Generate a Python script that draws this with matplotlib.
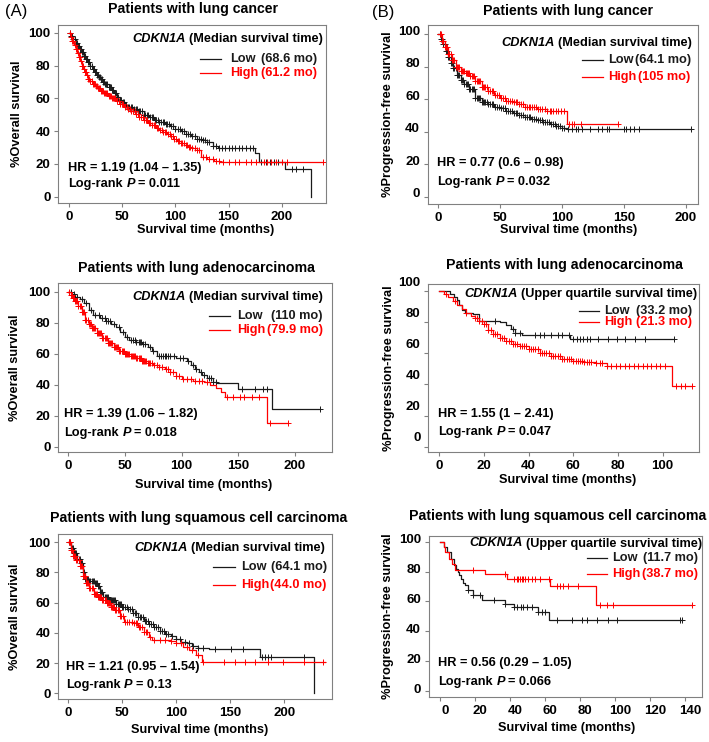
import numpy as np
import matplotlib
matplotlib.use("Agg")
import matplotlib.pyplot as plt
from matplotlib.lines import Line2D
import matplotlib.transforms as mtrans

plt.rcParams['font.family'] = ['Liberation Sans', 'DejaVu Sans']
plt.rcParams['font.weight'] = 'bold'

# ---------------- DATA ----------------
# Panel A1: overall survival, lung cancer
a1_low_t = [0,2,4,6,8,10,12,14,16,18,20,22,24,26,28,30,32,34,37,40,42.5,45,47.5,50,52.5,55,60,65,70,75,80,85,90,95,100,105,110,115,120,125,130,135,140,150,175,179,203,228]
a1_low_s = [100,98,96,94,92,90,88,86,84,82,80,78,76,74.5,73,71.5,70,69,67,65,63,61,59,57.5,56,55,53.5,52,50,48.5,47,45.5,44.5,43,41.5,40,38,37,35.5,34.8,33.5,31,30,29.5,26.5,21.2,17.1,0]
a1_low_c = [1,2,3,4,5,6,7,8,9,10,11,12,13,14,15,16,17,18,19,20,21,22,23,24,25,26,27,28,29,30,31,32,33,34,35,36,37,38,39,40,41.5,43,44.5,46,47.5,49,50.5,52,53.5,55,56.5,58,59.5,61,62.5,64,65.5,67,68.5,70,71.5,73,74.5,76,77.5,79,80.5,82,83.5,85,86.5,88,89.5,91,92.5,94,96,98,100,102,104,106,108,110,112,114,116,118,120,122,124,126,128,130,132,135,138,141,144,147,150,153,156,160,163,166,170,173,181,185,189,193,197,210,214,220]
a1_high_t = [0,1.5,3,4.5,6,7.5,9,10.5,12,13.5,15,16.5,18,20,22,24.5,27,30,33,36.5,40,44,48,51.5,55,58.5,62,66,70,74,78,81.5,85,88.5,92,95,98,101.5,105,108.5,112,116,120,124,130,136,142,239]
a1_high_s = [100,97.5,95,92.5,90,87.5,85,82.5,80,78,76,74,72,70.5,69,67.5,66,64.5,63,61.5,60,58.3,56.5,55,53.5,52,50.5,48.8,47,45.2,43.5,42,40.5,39.5,38.5,37,35.5,34.2,33,31.8,30.5,29.5,28.5,24.5,23,22,21,21]
a1_high_c = [1,2,3,4,5,6,7,8,9,10,11,12,13,14,15,16,17,18,19,20,21,22,23,24,25,26,27,28,29,30,31,32,33,34,35,36,37,38,39,40,41,42,43.5,45,46.5,48,49.5,51,52.5,54,55.5,57,58.5,60,61.5,63,64.5,66,67.5,69,70.5,72,73.5,75,76.5,78,79.5,81,82.5,84,85.5,87,88.5,90,91.5,93,94.5,96,97.5,99,100.5,102,103.5,105,106.5,108,109.5,111,112.5,114,116,118,120,122,126,129,132,135,138,141,145,150,156,160,166,171,176,183,186,190,195,200,205,239]

# Panel B1: progression-free survival, lung cancer
b1_low_t = [0,2,4,6,8,10,12,15,18,21,25,30,35,40,45,50,55,60,65,70,75,80,85,90,95,100,104,204]
b1_low_s = [100,97,94,90,86,82,79,75,72,69.5,66,61,58.5,57,55.5,54.5,53,51.5,50,49,48,47,46,44.5,43.5,42.5,41.5,41.5]
b1_low_c = [1,2,3,4,5,6,7,8,9,10,11,12,13,14,15,16,17,18,19,20,21,22,23,24,25,26,27,28,29,30,31,32,33,34,35,36,37,38,39,40,41.5,43,44.5,46,47.5,49,50.5,52,53.5,55,56.5,58,59.5,61,62.5,64,65.5,67,68.5,70,71.5,73,74.5,76,77.5,79,80.5,82,83.5,85,86.5,88,89.5,91,92.5,94,95.5,97,98.5,100,102,105,108,111,113,116,123,129,132,136,138,150,152,155,158,162,204]
b1_high_t = [0,3,5,8,11,14,18,22,26,30,35,40,45,50,55,60,65,70,75,80,88,104,145]
b1_high_s = [100,96,92,88,84,80,77.5,76,74,71,67.5,65,62.5,60.5,59,58,57,55.5,55,54,52.5,45,45]
b1_high_c = [1,2,3,4,5,6,7,8,9,10,11,12,13,14,15,16,17,18,19,20,21,22,23,24,25,26,27,28,29,30,31,32,33,34,35,36,37,38,39,40,41.5,43,44.5,46,47.5,49,50.5,52,53.5,55,56.5,58,59.5,61,62.5,64,65.5,67,68.5,70,71.5,73,74.5,76,77.5,79,80.5,82,84,86,88,90,91.5,93,95,97,99,102,106,108,110,115,145]

# Panel A2: overall survival, lung adenocarcinoma
a2_low_t = [0,3,6,10,14,18,22,28,33,38,42,46,50,54,60,65,70,74,78,95,105,108,112,115,118,122,128,131,150,180,222]
a2_low_s = [100,98.5,96.5,95,92.5,88,85,83,81,79,77,74,71,69,67.5,66.5,64.5,62,58.5,57.5,55,52.5,50,48,46,44,42,41,37,24.5,24.5]
a2_low_c = [2,5,8,12,16,20,24,27,30,32,33,35,37,40,45,48,52,55,57,59,60,62,63,64,66,68,72,75,80,82,84,85,86,88,90,93,99,101,106,110,113,117,120,124,126,128,130,153,165,172,175,222]
a2_high_t = [0,2,4,6,9,12,15,18,21,25,30,35,40,45,50,55,60,65,70,75,80,85,90,95,100,110,120,125,130,135,138,175,194]
a2_high_s = [100,98,96,94,91,87,82,79,76.5,73.5,70,67,64,62,60,58.5,57,55.5,54,53,51.5,50,48,45.5,43.5,42.5,41.5,40,38,35.5,32,15.5,15.5]
a2_high_c = [1,2,3,4,5,6,7,8,9,10,11,12,13,14,15,16,17,18,19,20,21,22,23,24,25,26,27,28,29,30,31,32,33,34,35,36,37,38,39,40,41,42,43,44,45,46,47,48,49,50,51,52,53,54,55,56,57,58,59,60,61,62,63,64,65,66,67,68,69,70,71,72,74,76,78,80,83,86,88,90,92,95,98,101,105,108,112,115,118,122,140,145,152,155,162,168,178,194]

# Panel B2: progression-free survival, lung adenocarcinoma
b2_low_t = [0,5,6.5,8,9,10,11.5,15,18,27,30,32,34,37,58.5,105]
b2_low_s = [100,98,96,94,91,88,86,85,81,80,78,75.5,73,71.7,69,69]
b2_low_c = [25,33,34,36,43,45,47,50,53,55,58,60,61.5,63,64.5,66,67.5,71,75.5,79.5,83,87.5,92,105]
b2_high_t = [0,2,4,6,8,10,12,14,16,18,20,22,24,27,30,33,36,40,45,50,55,60,65,70,75,104,113]
b2_high_s = [100,98,96,93.5,91,88.5,86,84,82.5,80.5,78.5,75,72.5,70,68,66,64.5,62.5,60.5,58.5,56.5,55.3,54.5,53.5,52,39,39]
b2_high_c = [3,7,12,16,17,18,19,20,21,22,23,24,25,26,27,28,29,30,31,32,33,34,35,36,37,38,39,40,41,42,43,44,45,46,47,48,49,50,51,52,53,54,55,56,57,58,59,60,61,62,63,64,65,66,67,68,70,72,73,75,77,79,81,83,85,87,89,91,93,95,97,99,101,106,108,110,113]

# Panel A3: overall survival, lung squamous cell carcinoma
a3_low_t = [0,3,6,9,12,14,16,20,25,28,30,33,38,45,50,55,60,65,70,75,80,85,90,95,100,105,110,115,120,130,178,227]
a3_low_s = [100,96,93,89,86,80,76,74.5,73,71,67,63.5,61.5,59,57,55.5,53,50.5,48,46,44,41.5,39.5,38,36,34,33,31.5,30,29,24.2,0]
a3_low_c = [1,2,3,4,5,6,7,8,9,10,11,12,13,14,15,16,17,18,19,20,21,22,23,24,25,26,27,28,29,30,31,32,33,34,35,36,37,38,39,40,41,42,43,44,45,46,47,48,49,50,51.5,53,54.5,56,57.5,59,60.5,62,63.5,65,66.5,68,69.5,71,72.5,74,75.5,77,78.5,80,81.5,83,85,87,89,91,93,96,100,104,108,112,116,120,125,136,151,162,179,182,185,188,218]
a3_high_t = [0,3,5,8,11,14,17,20,24,28,32,36,40,44,48,52,60,65,70,75,78,95,100,106,112,118,124,238]
a3_high_s = [100,95,91,88,84,78,73,69.5,66,64,62,60,57,55,51,47.5,46.5,44,40.5,37,35.5,34.5,33,30.5,28.5,25.5,21,21]
a3_high_c = [1,2,3,4,5,6,7,8,9,10,11,12,13,14,15,16,17,18,19,20,21,22,23,24,25,26,27,28,29,30,31,32,33,34,35,36,37,38,39,40,41,42,43,44,45,46,47,48,49,51,53,55,57,59,61,63,64,66,67,69,70,72,73,76,80,85,90,95,100,105,110,115,120,125,144,154,164,173,185,199,218,236]

# Panel B3: progression-free survival, lung squamous cell carcinoma
b3_low_t = [0,2,4,6,8,9,10,11,12,13,14,16,19,24,37,42,56,62,138]
b3_low_s = [100,96.4,93,88.6,84.2,81.5,79.7,77.5,75.2,72,70.8,67.4,64.1,60.7,58.5,56.3,52.9,47.4,47.4]
b3_low_c = [16.2,19,23,31,37,42,44,46,47.6,49.5,52.4,56,58,60,66.7,75.2,81,83.8,89.5,96.2,101,137,138]
b3_high_t = [0,2,3,5,7,8.6,25.7,38,63,89,144]
b3_high_s = [100,96.5,93,88.6,85.3,80.8,78.6,75.2,70.1,57.8,57.8]
b3_high_c = [19,37,42,44,44.7,45.7,46.7,47.6,48.6,50.5,52.4,54.3,57,62,66.7,68.6,70.5,73.3,79,91.4,95.2,99,144]

# Text content
titles = ["Patients with lung cancer", "Patients with lung cancer",
          "Patients with lung adenocarcinoma", "Patients with lung adenocarcinoma",
          "Patients with lung squamous cell carcinoma", "Patients with lung squamous cell carcinoma"]
ylabels = ["%Overall survival", "%Progression-free survival"] * 3
headers = ["(Median survival time)", "(Median survival time)",
           "(Median survival time)", "(Upper quartile survival time)",
           "(Median survival time)", "(Upper quartile survival time)"]
low_vals = ["(68.6 mo)", "(64.1 mo)", "(110 mo)", "(33.2 mo)", "(64.1 mo)", "(11.7 mo)"]
high_vals = ["(61.2 mo)", "(105 mo)", "(79.9 mo)", "(21.3 mo)", "(44.0 mo)", "(38.7 mo)"]
hr_texts = ["HR = 1.19 (1.04 \u2013 1.35)", "HR = 0.77 (0.6 \u2013 0.98)",
            "HR = 1.39 (1.06 \u2013 1.82)", "HR = 1.55 (1 \u2013 2.41)",
            "HR = 1.21 (0.95 \u2013 1.54)", "HR = 0.56 (0.29 \u2013 1.05)"]
p_texts = ["= 0.011", "= 0.032", "= 0.018", "= 0.047", "= 0.13", "= 0.066"]
xticks_list = [[0,50,100,150,200], [0,50,100,150,200], [0,50,100,150,200],
               [0,20,40,60,80,100], [0,50,100,150,200], [0,20,40,60,80,100,120,140]]
yticks = [0,20,40,60,80,100]

curves = [
    (a1_low_t, a1_low_s, a1_low_c, a1_high_t, a1_high_s, a1_high_c),
    (b1_low_t, b1_low_s, b1_low_c, b1_high_t, b1_high_s, b1_high_c),
    (a2_low_t, a2_low_s, a2_low_c, a2_high_t, a2_high_s, a2_high_c),
    (b2_low_t, b2_low_s, b2_low_c, b2_high_t, b2_high_s, b2_high_c),
    (a3_low_t, a3_low_s, a3_low_c, a3_high_t, a3_high_s, a3_high_c),
    (b3_low_t, b3_low_s, b3_low_c, b3_high_t, b3_high_s, b3_high_c),
]

# ---------------- LAYOUT (pixel positions) ----------------
W, H = 709, 742
layout = [
    dict(rect=(58.3, 25, 326, 203.3), xlim=(-10.3, 241.8), ylim=(-4, 104.7),
         title=(192.8, 9.5), ylab=17, xlab=(205.8, 230),
         head=(323.3, 39.3), line=(200, 221), rows=(59.3, 72.7), name=230, valr=316.7,
         hr=(68.3, 168.3, 184.3), ydy=0, xdx=0),
    dict(rect=(427.7, 25, 698.3, 204), xlim=(-8.6, 210.2), ylim=(-4.5, 105.7),
         title=(568, 11), ylab=388, xlab=(569, 230),
         head=(691.7, 42.7), line=(581.7, 603.3), rows=(60, 76.7), name=607.7, valr=690.7,
         hr=(437.3, 163.3, 181.7), ydy=4, xdx=0),
    dict(rect=(58.3, 283.3, 331.7, 452.3), xlim=(-8.8, 232.5), ylim=(-3.6, 105.4),
         title=(196, 268.3), ylab=15, xlab=(204, 485),
         head=(323.3, 297.3), line=(209, 230), rows=(315.7, 330), name=237.5, valr=322.7,
         hr=(64.3, 414, 432.7), ydy=0, xdx=0),
    dict(rect=(428.3, 284, 699.3, 452.3), xlim=(-4.9, 116.4), ylim=(-3.6, 104.5),
         title=(564.7, 265), ylab=389, xlab=(567.5, 480),
         head=(697, 294), line=(579.3, 599.3), rows=(310.7, 322), name=604.3, valr=692.3,
         hr=(438.3, 414, 432.3), ydy=10, xdx=0),
    dict(rect=(58.3, 534.3, 332.3, 699.3), xlim=(-8.7, 244.3), ylim=(-4, 105.3),
         title=(199, 518.3), ylab=15, xlab=(199.7, 730),
         head=(325, 548.3), line=(213.3, 235), rows=(567.3, 585), name=241.5, valr=326.7,
         hr=(65.7, 666.7, 685), ydy=0, xdx=0),
    dict(rect=(429, 535.7, 701.7, 697.3), xlim=(-6.3, 149.5), ylim=(-4.2, 104),
         title=(558, 516), ylab=388, xlab=(566.7, 728.3),
         head=(702, 543.5), line=(586.5, 606.7), rows=(558.3, 574.3), name=612, valr=698.3,
         hr=(438.3, 663.3, 681.7), ydy=3, xdx=5),
]

BLACK = '#1a1a1a'
RED = '#ff0000'
GRAY = '#808080'
FS = 9.2

fig = plt.figure(figsize=(W / 100, H / 100), dpi=100)
renderer = fig.canvas.get_renderer()


def fx(x):
    return x / W


def fy(y):
    return 1 - y / H


def text_w(s, **kw):
    t = fig.text(0, 0, s, **kw)
    w = t.get_window_extent(renderer).width
    t.remove()
    return w


def rich(x, y, parts, ha='left', size=FS, color='black'):
    sw = text_w('a a', fontsize=size, fontweight='bold') - text_w('aa', fontsize=size, fontweight='bold')
    widths = [text_w(s, fontsize=size, fontweight='bold', fontstyle=st) for s, st in parts]
    total = sum(widths) + sw * (len(parts) - 1)
    x0 = x if ha == 'left' else x - total
    for (s, st), w in zip(parts, widths):
        fig.text(fx(x0), fy(y), s, fontsize=size, fontweight='bold', fontstyle=st,
                 color=color, ha='left', va='center')
        x0 += w + sw


def km(ax, t, s, cens, color):
    t = np.asarray(t, float)
    s = np.asarray(s, float)
    c = np.asarray(cens, float)
    ax.step(t, s, where='post', color=color, lw=0.9)
    idx = np.searchsorted(t, c, side='right') - 1
    ax.plot(c, s[idx], '+', color=color, ms=4.2, mew=0.7, ls='none')


for i, (L, cv) in enumerate(zip(layout, curves)):
    l, t, r, b = L['rect']
    ax = fig.add_axes([fx(l), fy(b), (r - l) / W, (b - t) / H])
    lt, ls_, lc, ht, hs, hc = cv
    km(ax, lt, ls_, lc, BLACK)
    km(ax, ht, hs, hc, RED)
    ax.set_xlim(*L['xlim'])
    ax.set_ylim(*L['ylim'])
    ax.set_xticks(xticks_list[i])
    ax.set_yticks(yticks)
    ax.tick_params(direction='out', length=3.2, width=0.8, color=GRAY,
                   labelsize=9.5, pad=2.5)
    for lab in ax.get_yticklabels():
        lab.set_fontweight('bold')
    for lab in ax.get_xticklabels():
        lab.set_fontweight('bold')
    for sp in ax.spines.values():
        sp.set_color(GRAY)
        sp.set_linewidth(0.8)
    if L['ydy']:
        off = mtrans.ScaledTranslation(0, L['ydy'] / 100, fig.dpi_scale_trans)
        for lab in ax.get_yticklabels():
            lab.set_transform(lab.get_transform() + off)
    if L['xdx']:
        off = mtrans.ScaledTranslation(L['xdx'] / 100, 0, fig.dpi_scale_trans)
        for lab in ax.get_xticklabels():
            lab.set_transform(lab.get_transform() + off)

    # titles and axis labels
    fig.text(fx(L['title'][0]), fy(L['title'][1]), titles[i], fontsize=10.2,
             fontweight='bold', ha='center', va='center')
    fig.text(fx(L['ylab']), fy((t + b) / 2), ylabels[i], fontsize=FS, fontweight='bold',
             rotation=90, ha='center', va='center')
    fig.text(fx(L['xlab'][0]), fy(L['xlab'][1]), "Survival time (months)", fontsize=FS,
             fontweight='bold', ha='center', va='center')

    # legend
    rich(L['head'][0], L['head'][1], [("CDKN1A", 'italic'), (headers[i], 'normal')], ha='right')
    for row_y, col, name, val in [(L['rows'][0], BLACK, "Low", low_vals[i]),
                                  (L['rows'][1], RED, "High", high_vals[i])]:
        fig.add_artist(Line2D([fx(L['line'][0]), fx(L['line'][1])], [fy(row_y), fy(row_y)],
                              transform=fig.transFigure, color=col, lw=0.9))
        fig.text(fx(L['name']), fy(row_y), name, fontsize=FS, fontweight='bold',
                 color=col, ha='left', va='center')
        fig.text(fx(L['valr']), fy(row_y), val, fontsize=FS, fontweight='bold',
                 color=col, ha='right', va='center')

    # HR and log-rank
    hx, hy, py = L['hr']
    fig.text(fx(hx), fy(hy), hr_texts[i], fontsize=FS, fontweight='bold', ha='left', va='center')
    rich(hx, py, [("Log-rank", 'normal'), ("P", 'italic'), (p_texts[i], 'normal')], ha='left')

# panel letters
fig.text(fx(5), fy(11.7), "(A)", fontsize=12, fontweight='normal', ha='left', va='center')
fig.text(fx(371.7), fy(13), "(B)", fontsize=12, fontweight='normal', ha='left', va='center')

fig.savefig("out.png", dpi=100)
